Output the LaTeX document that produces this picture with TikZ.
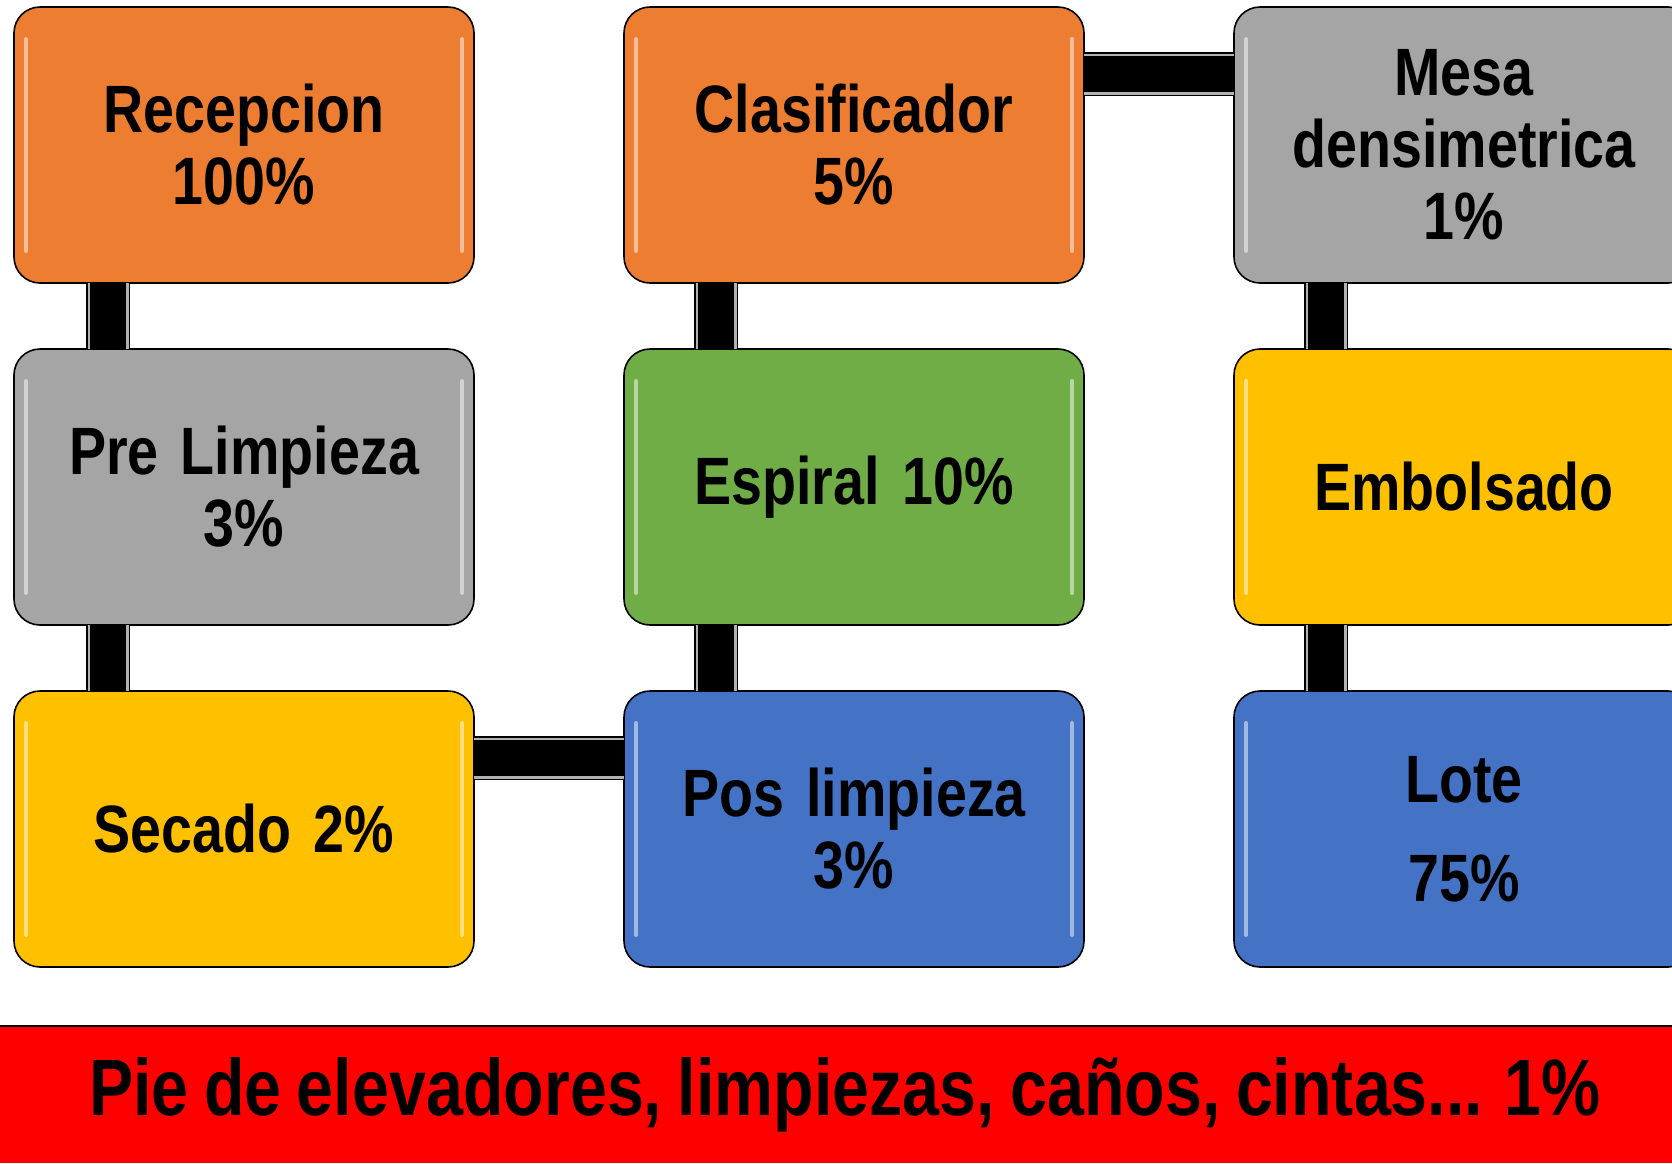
\documentclass[tikz,border=0pt]{standalone}
\usepackage{fontspec}
\setmainfont[FakeStretch=0.83,WordSpace=0.83]{Liberation Sans}
\usetikzlibrary{positioning}
\definecolor{stOrange}{HTML}{ED7D31}
\definecolor{stGray}{HTML}{A5A5A5}
\definecolor{stGreen}{HTML}{70AD47}
\definecolor{stYellow}{HTML}{FFC000}
\definecolor{stBlue}{HTML}{4472C4}
\definecolor{stRed}{HTML}{FF0000}

\begin{document}
\begin{tikzpicture}[
  x=0.5pt,y=-0.5pt,
  line join=round,
  stage/.style={draw=black,line width=0.8pt,rounded corners=13pt,
    minimum width=230pt,minimum height=138pt,inner sep=0pt,outer sep=0pt,
    align=center,text width=225pt,
    font=\fontsize{33.5}{36}\selectfont\bfseries,
    path picture={
      \draw[white,opacity=0.5,line width=2pt,line cap=round]
        ([xshift=6pt,yshift=-16pt]path picture bounding box.north west)
          -- ([xshift=6pt,yshift=16pt]path picture bounding box.south west)
        ([xshift=-6pt,yshift=-16pt]path picture bounding box.north east)
          -- ([xshift=-6pt,yshift=16pt]path picture bounding box.south east);
    }},
  pipe/.style={line width=20.5pt,draw=gray!60,line cap=butt,
    preaction={draw=black,line width=22pt},
    postaction={draw=black,line width=18pt}},
  redbar/.style={fill=stRed,minimum width=860pt,minimum height=68.5pt,
    inner sep=0pt,font=\fontsize{40}{44}\selectfont\bfseries},
  node distance=33pt and 75pt
]
  \useasboundingbox (0,0) rectangle (1672,1163);

  % first column
  \node[stage,fill=stOrange] (rec) at (244,145) {Recepcion\\100\%};
  \node[stage,fill=stGray,below=of rec] (pre) {Pre Limpieza\\3\%};
  \node[stage,fill=stYellow,below=of pre] (sec) {Secado 2\%};

  % second column
  \node[stage,fill=stBlue,right=of sec] (pos) {Pos limpieza\\3\%};
  \node[stage,fill=stGreen,above=of pos] (esp) {Espiral 10\%};
  \node[stage,fill=stOrange,above=of esp] (cla) {Clasificador\\5\%};

  % third column
  \node[stage,fill=stGray,right=of cla] (mesa) {Mesa\\densimetrica\\1\%};
  \node[stage,fill=stYellow,below=of mesa] (emb) {Embolsado};
  \node[stage,fill=stBlue,below=of emb] (lote) {Lote\\[13.5pt]75\%};

  % pipes
  \draw[pipe] ([xshift=47pt]rec.south west) -- ([xshift=47pt]pre.north west);
  \draw[pipe] ([xshift=47pt]pre.south west) -- ([xshift=47pt]sec.north west);
  \draw[pipe] ([yshift=-33.5pt]sec.north east) -- ([yshift=-33.5pt]pos.north west);
  \draw[pipe] ([xshift=46pt]pos.north west) -- ([xshift=46pt]esp.south west);
  \draw[pipe] ([xshift=46pt]esp.north west) -- ([xshift=46pt]cla.south west);
  \draw[pipe] ([yshift=-33.5pt]cla.north east) -- ([yshift=-33.5pt]mesa.north west);
  \draw[pipe] ([xshift=46pt]mesa.south west) -- ([xshift=46pt]emb.north west);
  \draw[pipe] ([xshift=46pt]emb.south west) -- ([xshift=46pt]lote.north west);

  % bottom bar
  \node[redbar] (bar) at (845,1094.5) {Pie de elevadores, limpiezas, caños, cintas... 1\%};
  \draw[line width=1pt] (bar.north west) -- (bar.north east);
\end{tikzpicture}
\end{document}
